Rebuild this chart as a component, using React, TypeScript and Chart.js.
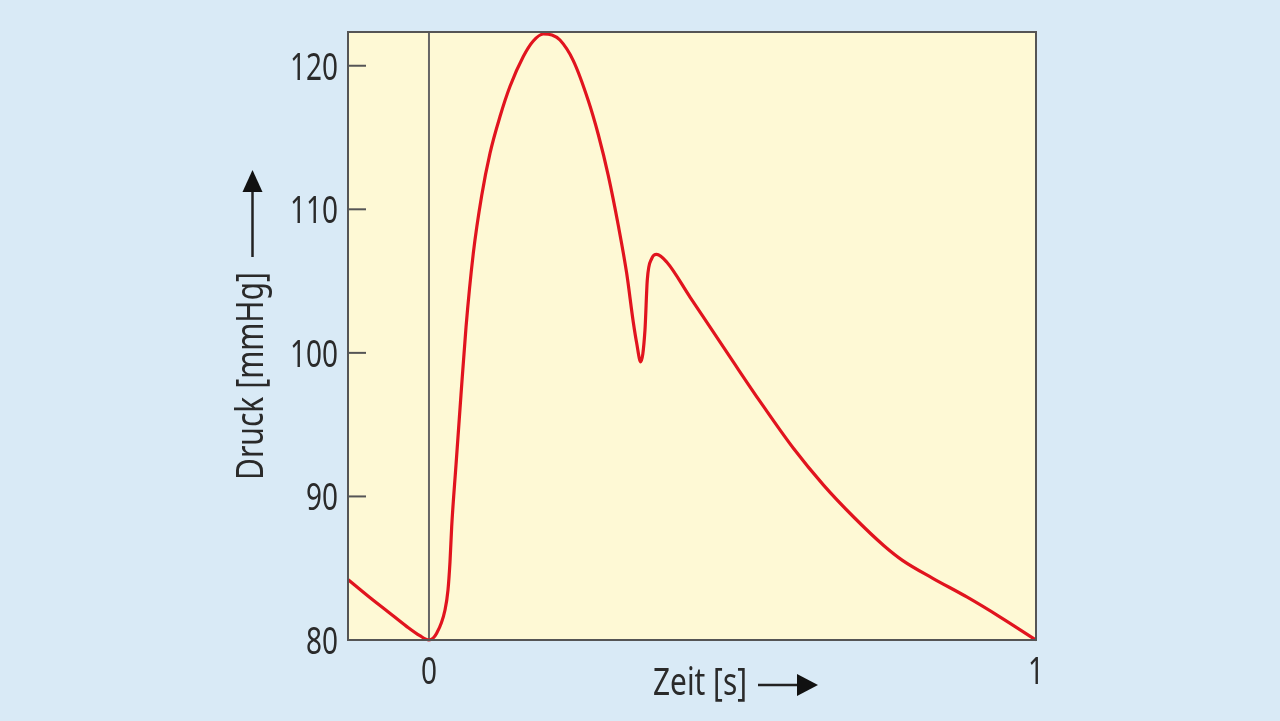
import React, { useEffect, useRef } from "react";
import { Chart, registerables } from "chart.js";

Chart.register(...registerables);

// ---- data ----
const TIME_S = [
  -0.133, -0.1, -0.067, -0.037, -0.015, 0, 0.0127, 0.0264, 0.0313, 0.0346,
  0.0374, 0.0445, 0.0527, 0.061, 0.073, 0.0868, 0.1005, 0.117, 0.1334, 0.1554,
  0.1718, 0.1883, 0.2026, 0.2158, 0.2377, 0.2624, 0.2789, 0.2954, 0.3119,
  0.3257, 0.3366, 0.3422, 0.3488, 0.3558, 0.3596, 0.3669, 0.3751, 0.3916, 0.43,
  0.5013, 0.5453, 0.6, 0.65, 0.7, 0.75, 0.78, 0.83, 0.886, 0.941, 1.0,
];
const PRESSURE_MMHG = [
  84.2, 83.05, 81.95, 80.95, 80.3, 80.0, 80.47, 82.09, 83.48, 85.43, 87.88,
  92.18, 97.05, 101.78, 106.93, 110.95, 113.9, 116.46, 118.55, 120.64, 121.72,
  122.21, 122.14, 121.79, 120.36, 117.58, 115.21, 112.35, 108.87, 105.54,
  102.13, 100.67, 99.37, 101.57, 105.05, 106.56, 106.86, 106.33, 103.89, 99.37,
  96.62, 93.37, 90.79, 88.55, 86.55, 85.55, 84.3, 83.0, 81.6, 80.0,
];
const X_TICKS = [0, 1];
const Y_TICKS = [80, 90, 100, 110, 120];
const X_MIN = -0.1334;
const X_MAX = 1;
const Y_MIN = 80;
const Y_MAX = 122.35;
const X_TITLE = "Zeit [s]";
const Y_TITLE = "Druck [mmHg]";

const FONT_FAMILY = "'Noto Sans', 'Open Sans', 'DejaVu Sans', sans-serif";
const TEXT_COLOR = "#2a2a2a";
const PAGE_BG = "#d9eaf6";
const PLOT_BG = "#fef9d5";
const FRAME = "#555555";
const RED = "#e1141e";

function arrowHead(ctx: CanvasRenderingContext2D, tipX: number, tipY: number, dir: "up" | "right") {
  ctx.beginPath();
  if (dir === "up") {
    ctx.moveTo(tipX, tipY);
    ctx.lineTo(tipX - 10, tipY + 22);
    ctx.lineTo(tipX + 10, tipY + 22);
  } else {
    ctx.moveTo(tipX, tipY);
    ctx.lineTo(tipX - 21, tipY - 11);
    ctx.lineTo(tipX - 21, tipY + 11);
  }
  ctx.closePath();
  ctx.fill();
}

// draw text horizontally compressed so that it mimics a condensed face
function condensedText(
  ctx: CanvasRenderingContext2D,
  text: string,
  x: number,
  y: number,
  sx: number,
  align: "left" | "center" | "right"
) {
  const w = ctx.measureText(text).width * sx;
  let left = x;
  if (align === "center") left = x - w / 2;
  if (align === "right") left = x - w;
  ctx.save();
  ctx.translate(left, y);
  ctx.scale(sx, 1);
  ctx.textAlign = "left";
  ctx.fillText(text, 0, 0);
  ctx.restore();
}

const decorPlugin = {
  id: "decor",
  beforeDraw(chart: any) {
    const { ctx, chartArea: a } = chart;
    ctx.save();
    ctx.fillStyle = PLOT_BG;
    ctx.fillRect(a.left, a.top, a.right - a.left, a.bottom - a.top);
    ctx.restore();
  },
  beforeDatasetsDraw(chart: any) {
    const { ctx, chartArea: a, scales } = chart;
    ctx.save();
    const x0 = scales.x.getPixelForValue(0);
    ctx.strokeStyle = "#666666";
    ctx.lineWidth = 2;
    ctx.beginPath();
    ctx.moveTo(x0, a.top);
    ctx.lineTo(x0, a.bottom);
    ctx.stroke();
    ctx.strokeStyle = FRAME;
    ctx.lineWidth = 2;
    for (const v of Y_TICKS) {
      const y = scales.y.getPixelForValue(v);
      ctx.beginPath();
      ctx.moveTo(a.left, y);
      ctx.lineTo(a.left + 18, y);
      ctx.stroke();
    }
    ctx.restore();
  },
  afterDraw(chart: any) {
    const { ctx, chartArea: a, scales } = chart;
    ctx.save();
    ctx.strokeStyle = FRAME;
    ctx.lineWidth = 2;
    ctx.strokeRect(a.left, a.top, a.right - a.left, a.bottom - a.top);

    ctx.fillStyle = TEXT_COLOR;
    ctx.font = `39px ${FONT_FAMILY}`;
    ctx.textBaseline = "alphabetic";
    const sx = 48 / ctx.measureText("120").width;

    // y tick labels (cap height centred on the tick)
    for (const v of Y_TICKS) {
      const y = scales.y.getPixelForValue(v);
      condensedText(ctx, String(v), a.left - 10, y + 14, sx, "right");
    }
    // x tick labels
    for (const v of X_TICKS) {
      const x = scales.x.getPixelForValue(v);
      condensedText(ctx, String(v), x, 684, sx, "center");
    }

    // x title + arrow
    const sxX = 94 / ctx.measureText(X_TITLE).width;
    condensedText(ctx, X_TITLE, 653, 695, sxX, "left");
    ctx.strokeStyle = "#222222";
    ctx.lineWidth = 2.5;
    ctx.beginPath();
    ctx.moveTo(758, 685);
    ctx.lineTo(800, 685);
    ctx.stroke();
    ctx.fillStyle = "#111111";
    arrowHead(ctx, 818, 685, "right");

    // y title + arrow
    ctx.fillStyle = TEXT_COLOR;
    const sxY = 208 / ctx.measureText(Y_TITLE).width;
    ctx.save();
    ctx.translate(263, 376);
    ctx.rotate(-Math.PI / 2);
    condensedText(ctx, Y_TITLE, 0, 0, sxY, "center");
    ctx.restore();
    ctx.strokeStyle = "#222222";
    ctx.beginPath();
    ctx.moveTo(252.5, 257);
    ctx.lineTo(252.5, 188);
    ctx.stroke();
    ctx.fillStyle = "#111111";
    arrowHead(ctx, 252.5, 170, "up");
    ctx.restore();
  },
};

export default function App() {
  const canvasRef = useRef<HTMLCanvasElement | null>(null);

  useEffect(() => {
    const canvas = canvasRef.current;
    if (!canvas) return;
    const points = TIME_S.map((t, i) => ({ x: t, y: PRESSURE_MMHG[i] }));
    const chart = new Chart(canvas, {
      type: "line",
      data: {
        datasets: [
          {
            label: "Druck",
            data: points,
            borderColor: RED,
            borderWidth: 3.2,
            pointRadius: 0,
            cubicInterpolationMode: "monotone",
            fill: false,
            clip: false as any,
          },
        ],
      },
      options: {
        animation: false,
        responsive: false,
        maintainAspectRatio: false,
        events: [],
        layout: { padding: { left: 0, top: 32, right: 244, bottom: 0 } },
        plugins: { legend: { display: false }, tooltip: { enabled: false } },
        scales: {
          x: {
            type: "linear",
            min: X_MIN,
            max: X_MAX,
            afterBuildTicks: (s: any) => {
              s.ticks = X_TICKS.map((v) => ({ value: v }));
            },
            afterFit: (s: any) => {
              s.height = 81;
            },
            grid: { display: false, drawTicks: false },
            border: { display: false },
            ticks: { display: false },
          },
          y: {
            type: "linear",
            min: Y_MIN,
            max: Y_MAX,
            afterBuildTicks: (s: any) => {
              s.ticks = Y_TICKS.map((v) => ({ value: v }));
            },
            afterFit: (s: any) => {
              s.width = 348;
            },
            grid: { display: false, drawTicks: false },
            border: { display: false },
            ticks: { display: false },
          },
        },
      },
      plugins: [decorPlugin],
    } as any);
    return () => chart.destroy();
  }, []);

  return (
    <div
      style={{
        position: "fixed",
        left: 0,
        top: 0,
        width: 1280,
        height: 721,
        background: PAGE_BG,
      }}
    >
      <canvas ref={canvasRef} width={1280} height={721} style={{ display: "block" }} />
    </div>
  );
}
